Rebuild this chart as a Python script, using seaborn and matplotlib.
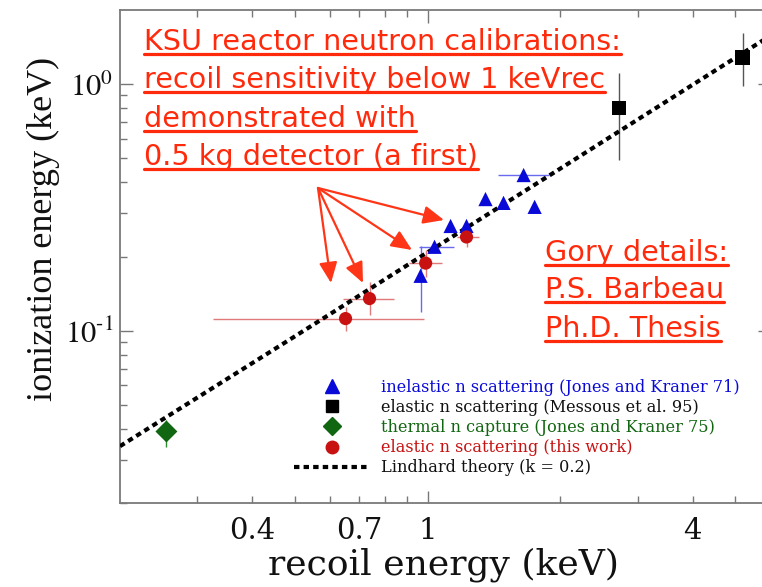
import numpy as np
import pandas as pd
import matplotlib
matplotlib.use("Agg")
import matplotlib.pyplot as plt
import seaborn as sns
from matplotlib.lines import Line2D

# ---------------- data ----------------
# inelastic n scattering (Jones and Kraner 71)
inel_x = [0.964, 1.037, 1.128, 1.226, 1.354, 1.488, 1.653, 1.751]
inel_y = [0.167, 0.219, 0.266, 0.266, 0.342, 0.330, 0.428, 0.318]
inel_x_lo = [0.964, 0.954, 1.128, 1.226, 1.354, 1.488, 1.443, 1.751]
inel_x_hi = [0.964, 1.146, 1.128, 1.226, 1.354, 1.488, 1.885, 1.751]
inel_y_lo = [0.119, 0.219, 0.266, 0.266, 0.342, 0.330, 0.428, 0.318]
inel_y_hi = [0.221, 0.219, 0.266, 0.266, 0.342, 0.330, 0.428, 0.318]

# elastic n scattering (Messous et al. 95)
mess_x = [2.72, 5.2]
mess_y = [0.80, 1.286]
mess_y_lo = [0.492, 0.981]
mess_y_hi = [1.108, 1.609]

# thermal n capture (Jones and Kraner 75)
capt_x = [0.255]
capt_y = [0.039]
capt_y_lo = [0.0336]
capt_y_hi = [0.0436]

# elastic n scattering (this work)
work_x = [0.651, 0.738, 0.990, 1.226]
work_y = [0.112, 0.135, 0.188, 0.240]
work_x_lo = [0.325, 0.644, 0.905, 1.164]
work_x_hi = [0.979, 0.837, 1.076, 1.306]
work_y_lo = [0.0995, 0.116, 0.1655, 0.219]
work_y_hi = [0.125, 0.157, 0.213, 0.261]

# Lindhard theory (k = 0.2)
lind_x = [0.2, 0.5, 1.0, 2.0, 4.0, 6.0]
lind_y = [0.034, 0.095, 0.208, 0.454, 0.994, 1.57]

labels = ["inelastic n scattering (Jones and Kraner 71)",
          "elastic n scattering (Messous et al. 95)",
          "thermal n capture (Jones and Kraner 75)",
          "elastic n scattering (this work)",
          "Lindhard theory (k = 0.2)"]

x_major = [1]
x_major_labels = ["1"]
x_minor = [0.3, 0.4, 0.5, 0.6, 0.7, 0.8, 0.9, 2, 3, 4, 5]
x_minor_labels = ["", "0.4", "", "", "0.7", "", "", "", "", "4", ""]
y_major = [0.1, 1.0]
y_major_labels = [r"$10^{\text{-}1}$", r"$10^{0}$"]
y_minor = [0.02, 0.03, 0.04, 0.05, 0.06, 0.07, 0.08, 0.09,
           0.2, 0.3, 0.4, 0.5, 0.6, 0.7, 0.8, 0.9]

note_lines = ["KSU reactor neutron calibrations:",
              "recoil sensitivity below 1 keVrec",
              "demonstrated with",
              "0.5 kg detector (a first)"]
gory_lines = ["Gory details:", "P.S. Barbeau", "Ph.D. Thesis"]

# ---------------- style ----------------
sns.set_style("ticks")
plt.rcParams["font.family"] = ["DejaVu Serif"]
plt.rcParams["mathtext.fontset"] = "stix"

W, H = 762, 587
fig = plt.figure(figsize=(W / 100, H / 100), dpi=100)
ax = fig.add_axes([120 / W, 1 - 503 / H, 650 / W, 493 / H])
ax.set_xscale("log")
ax.set_yscale("log")

BLUE = "#0a0ad8"
RED = "#c81212"
GREEN = "#116611"
NOTE_RED = "#ff2a0c"
DOTS = (0, (1.3, 1.0))

lind = pd.DataFrame({"x": lind_x, "y": lind_y})
sns.lineplot(data=lind, x="x", y="y", ax=ax, color="black", lw=3.0,
             linestyle=DOTS, zorder=3, legend=False)


def errs(v, lo, hi):
    v = np.asarray(v)
    return [v - np.asarray(lo), np.asarray(hi) - v]


ax.errorbar(inel_x, inel_y, xerr=errs(inel_x, inel_x_lo, inel_x_hi),
            yerr=errs(inel_y, inel_y_lo, inel_y_hi), fmt="none",
            ecolor="#6a6aee", elinewidth=1.0, capsize=0, zorder=2)
ax.errorbar(mess_x, mess_y, yerr=errs(mess_y, mess_y_lo, mess_y_hi),
            fmt="none", ecolor="#555555", elinewidth=1.0, capsize=0, zorder=2)
ax.errorbar(capt_x, capt_y, yerr=errs(capt_y, capt_y_lo, capt_y_hi),
            fmt="none", ecolor="#2e8b2e", elinewidth=1.0, capsize=0, zorder=2)
ax.errorbar(work_x, work_y, xerr=errs(work_x, work_x_lo, work_x_hi),
            yerr=errs(work_y, work_y_lo, work_y_hi), fmt="none",
            ecolor="#e07a7a", elinewidth=1.0, capsize=0, zorder=2)

sns.scatterplot(x=inel_x, y=inel_y, marker="^", s=105, color=BLUE,
                edgecolor="none", ax=ax, zorder=4)
sns.scatterplot(x=mess_x, y=mess_y, marker="s", s=110, color="black",
                edgecolor="none", ax=ax, zorder=4)
sns.scatterplot(x=capt_x, y=capt_y, marker="D", s=125, color=GREEN,
                edgecolor="none", ax=ax, zorder=4)
sns.scatterplot(x=work_x, y=work_y, marker="o", s=90, color=RED,
                edgecolor="none", ax=ax, zorder=4)

ax.set_xlim(0.2, 6.0)
ax.set_ylim(0.02, 2.0)

ax.set_xticks(x_major, labels=x_major_labels)
ax.set_xticks(x_minor, labels=x_minor_labels, minor=True)
ax.set_yticks(y_major, labels=y_major_labels)
ax.set_yticks(y_minor, labels=[""] * len(y_minor), minor=True)
ax.tick_params(which="both", direction="in", top=True, right=True,
               color="#777777", width=1.0, labelsize=21, labelcolor="#111111")
ax.tick_params(axis="x", which="both", pad=10)
ax.tick_params(axis="y", which="both", pad=5, labelsize=22)
ax.tick_params(which="major", length=9)
ax.tick_params(which="minor", length=5)
for sp in ax.spines.values():
    sp.set_color("#7a7a7a")
    sp.set_linewidth(1.3)

ax.set_xlabel("recoil energy (keV)", fontsize=26, color="#111111")
ax.set_ylabel("ionization energy (keV)", fontsize=26, color="#111111",
              family=["Liberation Serif", "DejaVu Serif"])
ax.xaxis.set_label_coords(0.497, -0.090)
ax.yaxis.set_label_coords(-0.092, 0.555)

# legend
handles = [
    Line2D([], [], marker="^", ls="none", color=BLUE, ms=10),
    Line2D([], [], marker="s", ls="none", color="black", ms=9),
    Line2D([], [], marker="D", ls="none", color=GREEN, ms=9),
    Line2D([], [], marker="o", ls="none", color=RED, ms=9),
    Line2D([], [], color="black", lw=3.0, linestyle=DOTS),
]
leg = ax.legend(handles, labels, loc="upper left",
                bbox_to_anchor=(294 / W, 1 - 379 / H),
                bbox_transform=fig.transFigure, frameon=False,
                fontsize=11.6, handlelength=4.7, handletextpad=0.68,
                labelspacing=0.19, borderpad=0, borderaxespad=0)
for txt, c in zip(leg.get_texts(), [BLUE, "#111111", GREEN, RED, "#111111"]):
    txt.set_color(c)

# annotation texts (red, underlined)
NOTE_FONT = ["DejaVu Sans"]
note_texts = []
for s, yb in zip(note_lines, [50, 88, 127, 165]):
    t = fig.text(144 / W, 1 - yb / H, s, fontsize=20.6, color=NOTE_RED,
                 ha="left", va="baseline", family=NOTE_FONT)
    note_texts.append((t, yb))
for s, yb in zip(gory_lines, [261, 298, 337]):
    t = fig.text(545 / W, 1 - yb / H, s, fontsize=20.6, color=NOTE_RED,
                 ha="left", va="baseline", family=NOTE_FONT)
    note_texts.append((t, yb))

fig.canvas.draw()
renderer = fig.canvas.get_renderer()
for t, yb in note_texts:
    bb = t.get_window_extent(renderer)
    yl = 1 - (yb + 4) / H
    fig.add_artist(Line2D([bb.x0 / W, bb.x1 / W], [yl, yl],
                          transform=fig.transFigure, color=NOTE_RED, lw=2.3))

# arrows
origin = (318, H - 188)
tips = [(331, H - 283), (363, H - 283), (412, H - 250), (444, H - 220)]
for tip in tips:
    ax.annotate("", xy=tip, xytext=origin, xycoords="figure pixels",
                textcoords="figure pixels", annotation_clip=False,
                arrowprops=dict(arrowstyle="-|>,head_length=1.25,head_width=0.55",
                                color="#ff3517", lw=1.6, shrinkA=0, shrinkB=0))

fig.savefig("out.png", dpi=100)
